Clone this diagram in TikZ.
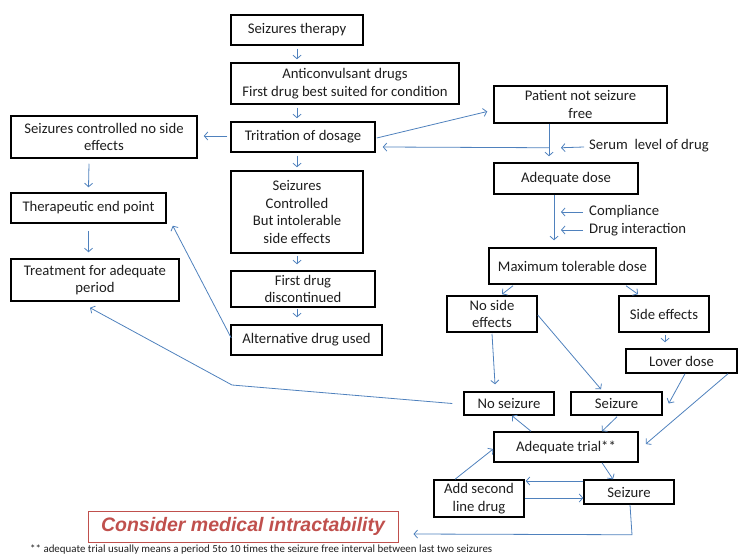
\documentclass[tikz,border=0pt]{standalone}
\usepackage{fontspec}
\setmainfont{Carlito}
\newfontfamily\cmifont{Liberation Sans}
\usetikzlibrary{arrows.meta,calc}
\definecolor{arrblue}{RGB}{79,129,189}
\definecolor{cmired}{RGB}{192,80,77}
\definecolor{txt}{RGB}{30,30,30}
\tikzset{
  box/.style={draw=black, line width=1.5pt, rectangle, align=center, inner sep=1pt,
    text=txt, font=\fontsize{14.7}{17.5}\selectfont},
  lbl/.style={anchor=west, inner sep=0pt, text=txt, font=\fontsize{14.7}{17.5}\selectfont},
  arr/.style={draw=arrblue, line width=0.8pt, -{Straight Barb[length=3.5pt,width=8pt]}},
  cmibox/.style={draw=cmired, line width=1pt, rectangle, inner sep=0pt,
    text=cmired, font=\cmifont\bfseries\itshape\fontsize{19.5}{20}\selectfont}
}
\begin{document}
\begin{tikzpicture}[x=1pt,y=-1pt]
\useasboundingbox (0,0) rectangle (738,556);
% boxes
\node[box, minimum width=132pt, minimum height=30pt] (ther) at (297,30) {Seizures therapy};
\node[box, minimum width=228pt, minimum height=41pt] (anti) at (345,83.5) {Anticonvulsant drugs\\First drug best suited for condition};
\node[box, minimum width=144pt, minimum height=30pt] (trit) at (303,137) {Tritration of dosage};
\node[box, minimum width=186pt, minimum height=42pt] (sc) at (104,137) {Seizures controlled no side\\effects};
\node[box, minimum width=132pt, minimum height=82pt] (intol) at (297,212) {Seizures\\Controlled\\But intolerable\\side effects};
\node[box, minimum width=155pt, minimum height=30pt] (tep) at (88.5,208) {Therapeutic end point};
\node[box, minimum width=168pt, minimum height=42pt] (tap) at (95,280) {Treatment for adequate\\period};
\node[box, minimum width=144pt, minimum height=36pt] (fdd) at (303,289) {First drug\\discontinued};
\node[box, minimum width=151pt, minimum height=30pt] (alt) at (306.5,340) {Alternative drug used};
\node[box, minimum width=173pt, minimum height=37pt] (pnsf) at (580.5,104.5) {Patient not seizure\\free};
\node[box, minimum width=144pt, minimum height=31pt] (adose) at (566,178.5) {Adequate dose};
\node[box, minimum width=167pt, minimum height=36pt] (mtd) at (572.5,266) {Maximum tolerable dose};
\node[box, minimum width=90pt, minimum height=36pt] (nse) at (492,314) {No side\\effects};
\node[box, minimum width=90pt, minimum height=36pt] (se) at (664,314) {Side effects};
\node[box, minimum width=111pt, minimum height=24pt] (lov) at (681.5,361) {Lover dose};
\node[box, minimum width=90pt, minimum height=23pt] (nos) at (509,403.5) {No seizure};
\node[box, minimum width=91pt, minimum height=23pt] (sz1) at (616.5,403.5) {Seizure};
\node[box, minimum width=144pt, minimum height=30pt] (atr) at (566,447) {Adequate trial**};
\node[box, minimum width=90pt, minimum height=37pt] (asl) at (479,498.5) {Add second\\line drug};
\node[box, minimum width=90pt, minimum height=24pt] (sz2) at (629,492) {Seizure};
\node[cmibox, minimum width=310pt, minimum height=31pt] (cmi) at (243,526.5) {Consider medical intractability};
% side labels
\node[lbl] (lserum) at (589,146) {Serum~ level of drug};
\node[lbl] (lcomp) at (589,212) {Compliance};
\node[lbl] (ldrug) at (589,230) {Drug interaction};
% footnote
\node[anchor=west, inner sep=0pt, text=txt] (fn) at (30,549) {\resizebox{462pt}{!}{\fontsize{9}{10}\selectfont ** adequate trial usually means a period 5to 10 times the seizure free interval between last two seizures}};
% connectors
\draw[arr] ($(ther.south)+(0,3)$) -- ($(anti.north)+(-48,-3)$);
\draw[arr] ($(anti.south)+(-48,3)$) -- ($(trit.north)+(-6,-3)$);
\draw[arr] ($(trit.west)+(-3,-1)$) -- ($(sc.east)+(6,-1)$);
\draw[arr] ($(trit.south)+(-6,3)$) -- ($(intol.north)+(0,-3)$);
\draw[arr] ($(sc.south)+(-15,5)$) -- ($(tep.north)+(0,-5)$);
\draw[arr] ($(tep.south)+(0,7)$) -- ($(tap.north)+(-6.5,-6)$);
\draw[arr] ($(intol.south)+(0,2)$) -- ($(fdd.north)+(-6,-6)$);
\draw[arr] ($(fdd.south)+(-6,1)$) -- ($(alt.north)+(-9.5,-7)$);
\draw[arr] ($(alt.west)+(1,-2)$) -- ($(tep.south east)+(6,2)$);
\coordinate (bend1) at (232,385);
\draw[arr] ($(nos.west)+(-11,0)$) -- (bend1) -- ($(tap.south)+(-5,6)$);
\draw[arr] ($(trit.east)+(1,1)$) -- ($(pnsf.west)+(-6,7)$);
\draw[arr] ($(pnsf.south)+(-31.5,0)$) -- ($(adose.north)+(-17,-6)$);
\coordinate (j) at ($(pnsf.south)+(-31.5,24)$);
\draw[arr] (j) -- ($(trit.east)+(7,10)$);
\draw[arr] ($(lserum.west)+(-5,1)$) -- ($(j)+(12,0)$);
\draw[arr] ($(adose.south)+(-12,0)$) -- ($(mtd.north)+(-18.5,-7)$);
\draw[arr] ($(lcomp.west)+(-6,0)$) -- ($(lcomp.west)+(-28,0)$);
\draw[arr] ($(ldrug.west)+(-6,0)$) -- ($(ldrug.west)+(-28,0)$);
\draw[arr] ($(mtd.south)+(-59.5,1)$) -- ($(nse.north)+(10,-1)$);
\draw[arr] ($(mtd.south)+(53.5,1)$) -- ($(se.north)+(-26,-1)$);
\draw[arr] ($(nse.south)+(0,1)$) -- ($(nos.north)+(-14,-7)$);
\draw[arr] ($(nse.east)+(0,1)$) -- ($(sz1.north)+(-15.5,-2)$);
\draw[arr] ($(se.south)+(1,2)$) -- ($(lov.north)+(-16.5,-6)$);
\draw[arr] ($(lov.south)+(3.5,0)$) -- ($(sz1.east)+(6,0)$);
\draw[arr] ($(lov.south)+(46.5,0)$) -- ($(atr.east)+(7,-3)$);
\draw[arr] ($(sz1.south)+(0.5,1)$) -- ($(atr.north)+(36,0)$);
\draw[arr] ($(atr.north)+(-35,0)$) -- ($(nos.south)+(3,0)$);
\draw[arr] ($(asl.north)+(-24,0)$) -- ($(atr.west)+(0,2)$);
\draw[arr] ($(atr.south)+(36,0)$) -- ($(sz2.north)+(-16,0)$);
\draw[arr] ($(sz2.west)+(0,-11)$) -- ($(asl.east)+(1,-17.5)$);
\draw[arr] ($(asl.east)+(0,-0.5)$) -- ($(sz2.west)+(0,6)$);
\coordinate (corner) at ($(sz2.south)+(3,30)$);
\draw[arr] ($(sz2.south)+(1,0)$) -- (corner) -- ($(cmi.east)+(15,7.5)$);
\end{tikzpicture}
\end{document}
